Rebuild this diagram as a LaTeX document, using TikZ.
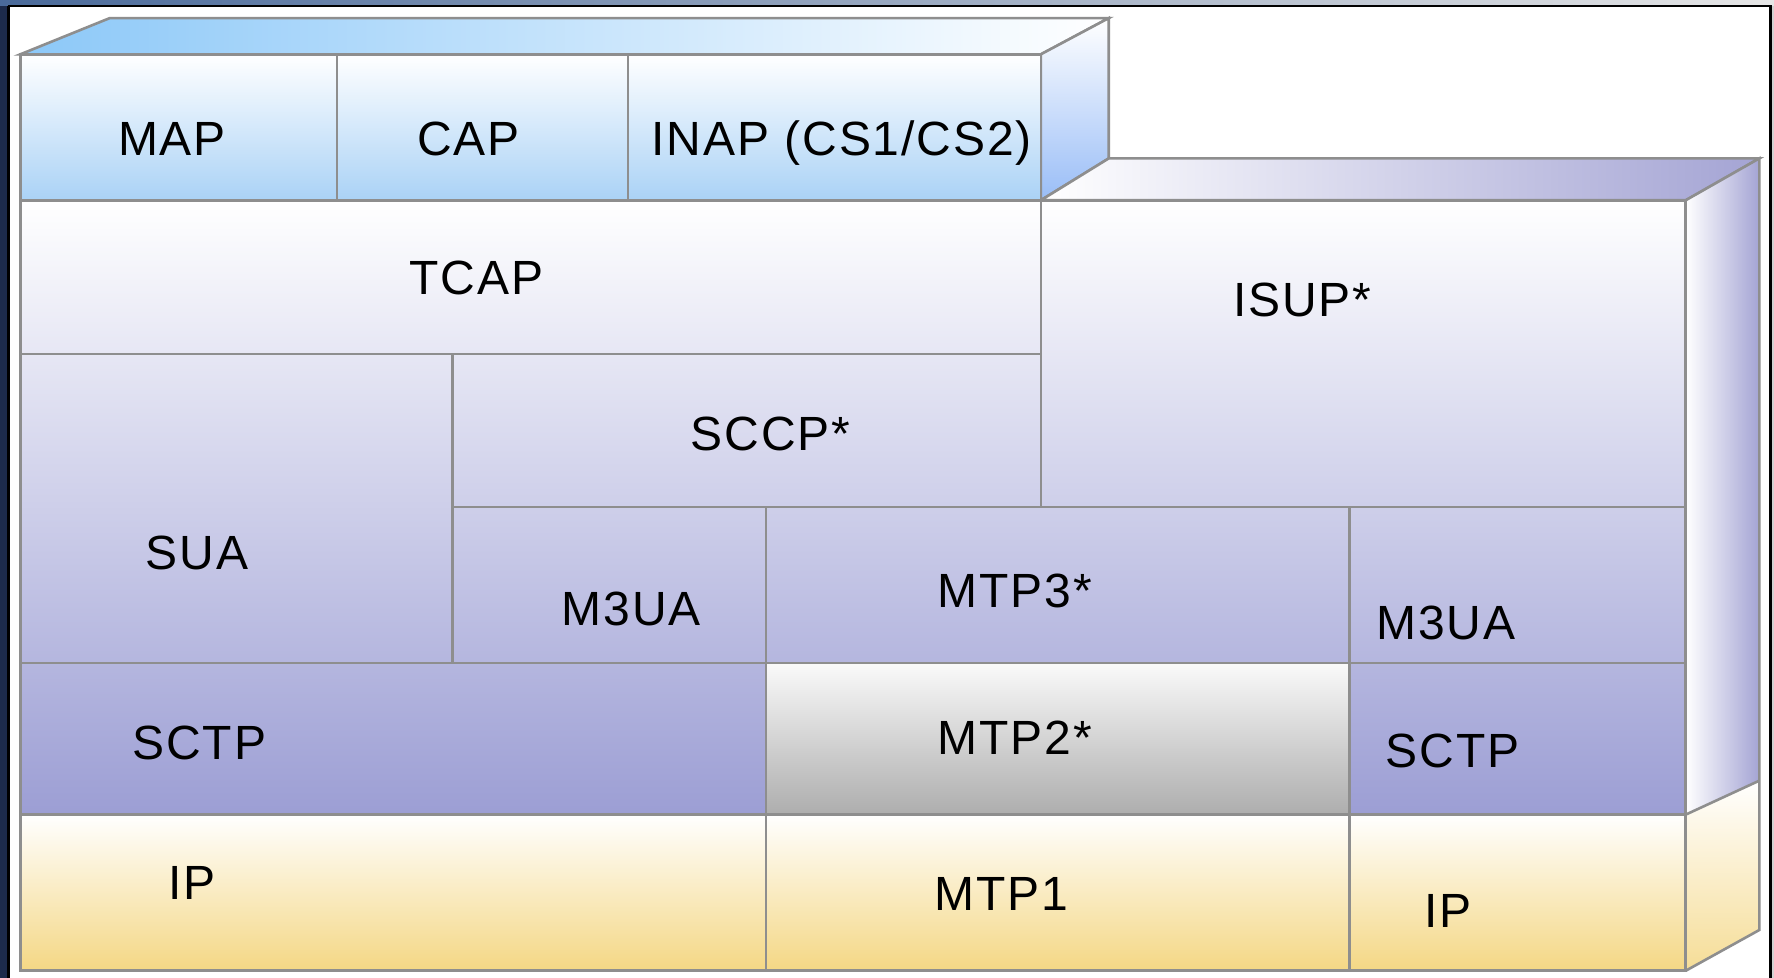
\documentclass[tikz,border=0pt]{standalone}
\usepackage{fontspec}
\setmainfont{Liberation Sans}
\newfontfamily\stackfont[LetterSpace=4]{Liberation Sans}
\definecolor{edge}{HTML}{8E8E8E}
\definecolor{lav}{HTML}{9C9ED4}
\definecolor{lavmid}{HTML}{D2D2EA}
\definecolor{lavside}{HTML}{A4A4D4}
\definecolor{sky}{HTML}{AAD2F6}
\definecolor{skytop}{HTML}{8CC8F8}
\definecolor{gold}{HTML}{F4D784}
\definecolor{cream}{HTML}{FCF0D4}
\definecolor{navy}{HTML}{1D2B4B}
\definecolor{steel}{HTML}{4A6A9A}
\definecolor{pale}{HTML}{E6E6E6}
\begin{document}
\begin{tikzpicture}[x=1.131pt,y=-1.131pt,
  cellline/.style={draw=edge,line width=2.6pt,line join=miter},
  lbl/.style={anchor=base,inner sep=0pt,font=\stackfont\fontsize{48}{56}\selectfont,text=black}]
\useasboundingbox (0,0) rectangle (1568,864);
% background and window frame
\fill[white] (0,0) rectangle (1568,864);
\fill[navy] (0,0) rectangle (7,864);
\shade[left color=steel,right color=pale] (0,0) rectangle (1568,4.6);
\draw[black,line width=2.2pt] (7,5.4) -- (1566,5.4);
\draw[black,line width=2.2pt] (7.6,5.4) -- (7.6,864);
\draw[black,line width=3pt] (1564.5,5.4) -- (1564.5,864);
\fill[pale!80!gray] (1566,5.4) rectangle (1568,864);
% top block (MAP/CAP/INAP)
\shade[left color=skytop,right color=white,cellline] (18,48) -- (97,16) -- (980,16) -- (920,48) -- cycle;
\shade[top color=white,bottom color=sky!90!blue,cellline] (920,48) -- (980,16) -- (980,140) -- (920,177) -- cycle;
\shade[top color=white,bottom color=sky] (18,48) rectangle (920,177);
% ISUP block top and side faces
\shade[left color=white,right color=lavside,cellline] (920,177) -- (980,140) -- (1555,140) -- (1490,177) -- cycle;
\shade[left color=white,right color=lavside] (1490,177) -- (1555,140) -- (1555,690) -- (1490,720) -- cycle;
\shade[top color=white,bottom color=gold!85!white] (1490,720) -- (1555,690) -- (1555,822) -- (1490,858) -- cycle;
% lower stack
\shade[top color=white,middle color=lavmid,bottom color=lav] (18,177) rectangle (1490,720);
\shade[top color=white!98!black,bottom color=black!32] (677,586) rectangle (1193,720);
\shade[top color=white,middle color=cream,bottom color=gold] (18,720) rectangle (1490,858);
% cell borders
\draw[cellline] (18,48) rectangle (920,177);
\draw[cellline] (298,48) -- (298,177) (555,48) -- (555,177);
\draw[cellline] (18,177) -- (1490,177);
\draw[cellline] (18,313) -- (920,313);
\draw[cellline] (400,448) -- (1490,448);
\draw[cellline] (18,586) -- (1490,586);
\draw[cellline] (18,720) -- (1490,720);
\draw[cellline] (18,177) -- (18,858) -- (1490,858) -- (1490,177);
\draw[cellline] (920,177) -- (920,448);
\draw[cellline] (400,313) -- (400,586);
\draw[cellline] (677,448) -- (677,858);
\draw[cellline] (1193,448) -- (1193,858);
\draw[cellline] (1490,177) -- (1555,140) -- (1555,822) -- (1490,858);
\draw[cellline] (1490,720) -- (1555,690);
% labels
\node[lbl] (map) at (152,137) {MAP};
\node[lbl] (cap) at (414,137) {CAP};
\node[lbl] (inap) at (744,137) {INAP (CS1/CS2)};
\node[lbl] (tcap) at (421,260) {TCAP};
\node[lbl] (isup) at (1151,280) {ISUP*};
\node[lbl] (sccp) at (681,398) {SCCP*};
\node[lbl] (sua) at (174,503) {SUA};
\node[lbl] (mthreeuaL) at (558,553) {M3UA};
\node[lbl] (mtpthree) at (897,537) {MTP3*};
\node[lbl] (mthreeuaR) at (1278,565) {M3UA};
\node[lbl] (sctpL) at (176,671) {SCTP};
\node[lbl] (mtptwo) at (897,667) {MTP2*};
\node[lbl] (sctpR) at (1284,678) {SCTP};
\node[lbl] (ipL) at (170,795) {IP};
\node[lbl] (mtpone) at (885,805) {MTP1};
\node[lbl] (ipR) at (1280,820) {IP};
\end{tikzpicture}
\end{document}
